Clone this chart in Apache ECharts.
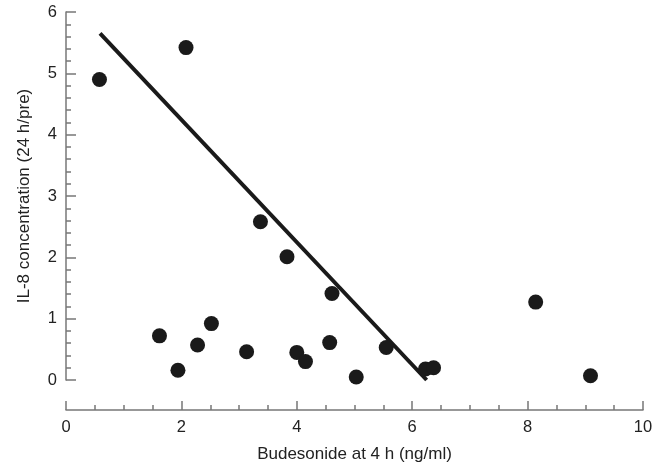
<!DOCTYPE html>
<html><head><meta charset="utf-8">
<script src="https://cdn.jsdelivr.net/npm/echarts@6/dist/echarts.min.js"></script>
<style>html,body{margin:0;padding:0;background:#fff}#c{width:668px;height:467px}</style>
</head><body><div id="c"></div>
<script>
var budesonide = [0.58, 2.08, 3.37, 3.83, 4.61, 1.62, 2.52, 2.28, 1.94, 3.13, 4.0, 4.15, 4.57, 5.03, 5.55, 6.23, 6.37, 8.14, 9.09];
var il8 = [4.90, 5.42, 2.58, 2.01, 1.41, 0.72, 0.92, 0.57, 0.16, 0.46, 0.45, 0.30, 0.61, 0.05, 0.53, 0.18, 0.20, 1.27, 0.07];
var fitX = [0.59, 6.25];
var fitY = [5.65, 0.0];
var xTicks = [0, 2, 4, 6, 8, 10];
var yTicks = [0, 1, 2, 3, 4, 5, 6];

var pts = budesonide.map(function(x, i){ return [x, il8[i]]; });
var fit = fitX.map(function(x, i){ return [x, fitY[i]]; });
var axisCol = '#777';
var chart = echarts.init(document.getElementById('c'));
chart.setOption({
  animation: false,
  grid: {left: 66, top: 12, right: 25, bottom: 87, outerBoundsMode: 'none', containLabel: false},
  xAxis: {
    type: 'value', min: 0, max: 10, interval: 2, offset: 30,
    name: 'Budesonide at 4 h (ng/ml)', nameLocation: 'middle', nameGap: 36,
    nameTextStyle: {fontSize: 17, color: '#222', fontFamily: 'Liberation Sans'},
    axisLine: {show: true, onZero: false, lineStyle: {color: axisCol, width: 1.5}},
    axisTick: {show: true, inside: true, length: 9, lineStyle: {color: axisCol, width: 1.5}},
    minorTick: {show: true, splitNumber: 4, length: 5, lineStyle: {color: axisCol, width: 1.5}},
    axisLabel: {fontSize: 16.5, color: '#222', margin: 9, fontFamily: 'Liberation Sans',
      formatter: function(v){ return xTicks.indexOf(v) >= 0 ? String(v) : ''; }},
    splitLine: {show: false}
  },
  yAxis: {
    type: 'value', min: 0, max: 6, interval: 1,
    name: 'IL-8 concentration (24 h/pre)', nameLocation: 'middle', nameGap: 33,
    nameTextStyle: {fontSize: 17, color: '#222', fontFamily: 'Liberation Sans'},
    axisLine: {show: true, onZero: false, lineStyle: {color: axisCol, width: 1.5}},
    axisTick: {show: true, inside: true, length: 10, lineStyle: {color: axisCol, width: 1.5}},
    minorTick: {show: true, splitNumber: 5, length: 5, lineStyle: {color: axisCol, width: 1.5}},
    axisLabel: {fontSize: 16.5, color: '#222', margin: 9, fontFamily: 'Liberation Sans',
      formatter: function(v){ return yTicks.indexOf(v) >= 0 ? String(v) : ''; }},
    splitLine: {show: false}
  },
  series: [
    {type: 'line', data: fit, symbol: 'none', lineStyle: {color: '#1a1a1a', width: 4}, z: 2},
    {type: 'scatter', data: pts, symbolSize: 15, itemStyle: {color: '#1a1a1a', opacity: 1}, z: 3}
  ]
});
</script></body></html>
